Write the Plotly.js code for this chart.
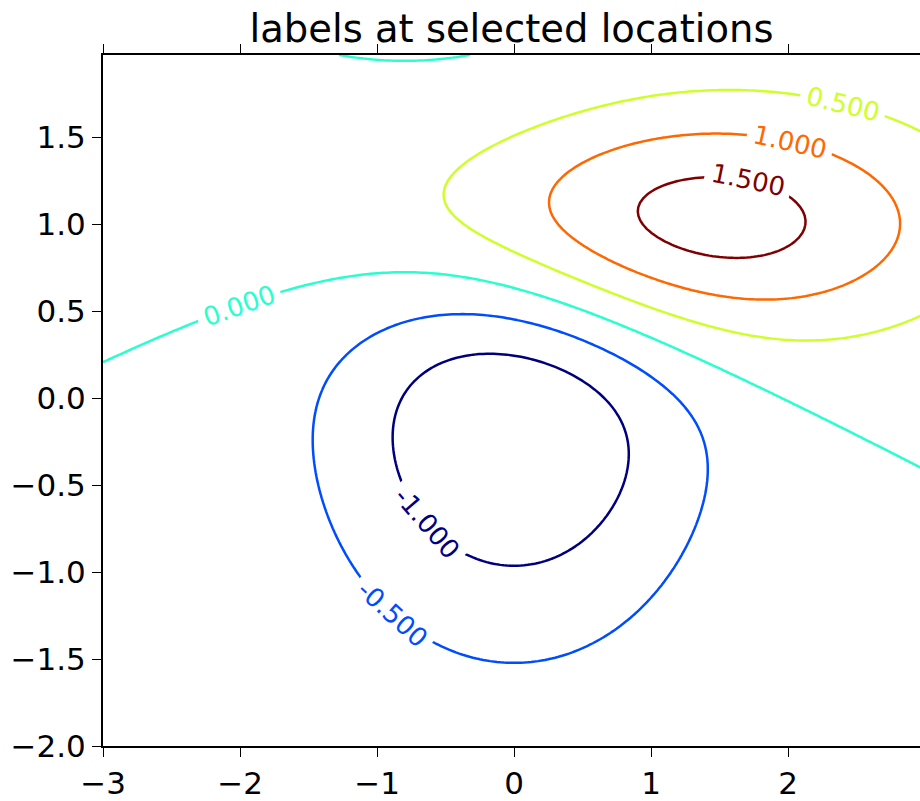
<!DOCTYPE html>
<html>
<head>
<meta charset="utf-8">
<script src="https://cdn.plot.ly/plotly-3.0.1.min.js"></script>
<style>html,body{margin:0;padding:0;background:#fff;overflow:hidden}</style>
</head>
<body>
<div id="chart" style="width:920px;height:801px"></div>
<script>
// ---- data ----
// grid extents
const xStart = -3.0, xStop = 3.0, yStart = -2.0, yStop = 2.0, gridStep = 0.025;
// the two bumps that make the surface: a negative one at the origin, a positive one at (1,1)
const bumpCenterX = [0.0, 1.0];
const bumpCenterY = [0.0, 1.0];
const bumpSigmaX  = [1.0, 1.5];
const bumpSigmaY  = [1.0, 0.5];
const bumpWeight  = [-10.0, 10.0];
// contour levels and their colours
const levels      = [-1.0, -0.5, 0.0, 0.5, 1.0, 1.5];
const levelColors = ['#00007f', '#004cff', '#29ffce', '#ceff29', '#ff6800', '#7f0000'];
const levelLabels = ['-1.000', '-0.500', '0.000', '0.500', '1.000', '1.500'];
// selected label locations (one per level, same order)
const labelX = [-0.62, -1.0, -2.0, 2.4, 2.0, 1.7];
const labelY = [-0.7, -1.4, 0.5, 1.7, 1.4, 1.2];
// axis ticks
const xTickVals = [-3, -2, -1, 0, 1, 2];
const yTickVals = [-2.0, -1.5, -1.0, -0.5, 0.0, 0.5, 1.0, 1.5];

// ---- layout constants ----
const W = 920, H = 801;
const M = {l: 103, r: 0, t: 55, b: 55};
const xRange = [-3, 2.963], yRange = [-2, 1.975];
const pxPerX = (W - M.l - M.r) / (xRange[1] - xRange[0]);
const pxPerY = (H - M.t - M.b) / (yRange[1] - yRange[0]);

function field(x, y) {
  let s = 0;
  for (let k = 0; k < bumpWeight.length; k++) {
    const dx = x - bumpCenterX[k], dy = y - bumpCenterY[k];
    const sx = bumpSigmaX[k], sy = bumpSigmaY[k];
    s += bumpWeight[k] * Math.exp(-(dx*dx/(2*sx*sx) + dy*dy/(2*sy*sy))) / (2*Math.PI*sx*sy);
  }
  return s;
}

const xs = [], ys = [];
for (let i = 0; xStart + i*gridStep < xStop - 1e-9; i++) xs.push(+(xStart + i*gridStep).toFixed(4));
for (let j = 0; yStart + j*gridStep < yStop - 1e-9; j++) ys.push(+(yStart + j*gridStep).toFixed(4));
const zs = ys.map(y => xs.map(x => field(x, y)));

const traces = levels.map((lv, i) => ({
  type: 'contour', x: xs, y: ys, z: zs,
  autocontour: false,
  contours: {start: lv, end: lv, size: 1, coloring: 'none', showlabels: false},
  line: {color: levelColors[i], width: 2.5, smoothing: 0},
  showscale: false, hoverinfo: 'skip'
}));

function grad(x, y) {
  const h = 1e-4;
  return [(field(x+h, y) - field(x-h, y)) / (2*h), (field(x, y+h) - field(x, y-h)) / (2*h)];
}

const annotations = levels.map((lv, i) => {
  let px = labelX[i], py = labelY[i];
  for (let it = 0; it < 30; it++) {
    const f = field(px, py) - lv;
    const g = grad(px, py);
    const g2 = g[0]*g[0] + g[1]*g[1];
    px -= f * g[0] / g2; py -= f * g[1] / g2;
  }
  const g = grad(px, py);
  const tx = -g[1] * pxPerX, ty = -g[0] * pxPerY; // screen tangent (y down)
  let ang = Math.atan2(ty, tx) * 180 / Math.PI;
  if (ang > 90) ang -= 180;
  if (ang < -90) ang += 180;
  return {
    x: px, y: py, xref: 'x', yref: 'y', showarrow: false,
    text: levelLabels[i], textangle: ang,
    font: {family: 'DejaVu Sans', size: 26, color: levelColors[i]},
    bgcolor: '#ffffff', borderpad: 6, xanchor: 'center', yanchor: 'middle'
  };
});

const axisCommon = {
  showgrid: false, zeroline: false, showline: true, linecolor: '#000', linewidth: 2,
  ticks: 'outside', ticklen: 9, tickwidth: 1, tickcolor: '#000',
  tickfont: {family: 'DejaVu Sans', size: 31, color: '#000'}
};

const layout = {
  width: W, height: H, margin: {l: M.l, r: M.r, t: M.t, b: M.b, pad: 0},
  paper_bgcolor: '#fff', plot_bgcolor: '#fff', showlegend: false,
  title: {text: 'labels at selected locations', font: {family: 'DejaVu Sans', size: 38.5, color: '#000'},
          x: 0.5, xref: 'paper', xanchor: 'center', y: 1, yref: 'paper', yanchor: 'bottom', pad: {b: 13}},
  xaxis: Object.assign({}, axisCommon, {range: xRange, tickvals: xTickVals, mirror: 'ticks', tickformat: 'd'}),
  yaxis: Object.assign({}, axisCommon, {range: yRange, tickvals: yTickVals, tickformat: '.1f', mirror: true}),
  annotations: annotations
};

Plotly.newPlot('chart', traces, layout, {displayModeBar: false, staticPlot: true});
</script>
</body>
</html>
